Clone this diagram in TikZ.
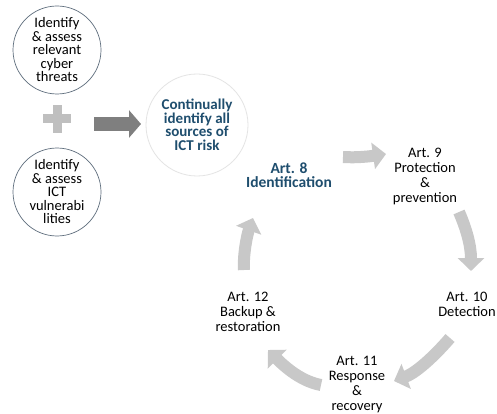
\documentclass[tikz,border=0pt]{standalone}
\usepackage{fontspec}
\setmainfont{Carlito}
\usetikzlibrary{arrows.meta}
\definecolor{dblue}{RGB}{31,78,110}
\definecolor{lgray}{RGB}{200,200,200}
\definecolor{dgray}{RGB}{127,127,127}
\definecolor{pgray}{RGB}{191,191,191}
\definecolor{cborder}{RGB}{95,110,125}
\definecolor{ccborder}{RGB}{228,228,228}
\tikzset{
  txt/.style={align=center, inner sep=0pt, font=\fontsize{14.5}{15}\selectfont},
  ctxt/.style={circle, draw=cborder, line width=0.7pt, minimum size=88pt, inner sep=0pt, align=center, font=\fontsize{14.5}{13.5}\selectfont},
  bigcirc/.style={circle, draw=ccborder, line width=0.8pt, minimum size=102pt, inner sep=0pt, align=center, text=dblue, font=\bfseries\fontsize{15}{13.5}\selectfont},
  btxt/.style={align=center, inner sep=0pt, text=dblue, font=\bfseries\fontsize{15.5}{14.5}\selectfont},
  garrow/.style={draw=lgray, line width=12pt, -{Triangle[width=26pt,length=13pt]}},
  darrow/.style={draw=dgray, line width=14pt, -{Triangle[width=27pt,length=12pt]}},
}
\begin{document}
\begin{tikzpicture}[x=1pt,y=-1pt]
\clip (0,0) rectangle (497,414);
\fill[white] (0,0) rectangle (497,414);
% left circles
\node[ctxt] (threats) at (57,50) {Identify\\\& assess\\relevant\\cyber\\threats};
\node[ctxt] (vuln) at (57,192) {Identify\\\& assess\\ICT\\vulnerabi\\lities};
% plus
\fill[pgray] (43,114.5) rectangle (71,123.5);
\fill[pgray] (52.5,105) rectangle (61.5,133);
% center circle
\node[bigcirc] (sources) at (197,125) {Continually\\identify all\\sources of\\ICT risk};
\coordinate (bstart) at (94,124);
\coordinate (bend) at (141,124);
\draw[darrow] (bstart) -- (bend);
% cycle texts
\node[btxt] (a8) at (289,175) {Art. 8\\Identification};
\node[txt] (a9) at (425,176) {Art. 9\\Protection\\\&\\prevention};
\node[txt] (a10) at (467,304) {Art. 10\\Detection};
\node[txt] (a11) at (357,384) {Art. 11\\Response\\\&\\recovery};
\node[txt] (a12) at (248,312) {Art. 12\\Backup \&\\restoration};
% arrow coordinates
\coordinate (s1) at (343,157);
\coordinate (e1) at (386,154);
\coordinate (s2) at (459,212);
\coordinate (e2) at (471,271);
\coordinate (s3) at (450,338);
\coordinate (e3) at (394,381);
\coordinate (s4) at (321,385);
\coordinate (e4) at (268,350);
\coordinate (s5) at (244,270);
\coordinate (e5) at (253,218);
\draw[garrow] (s1) .. controls (358,158) and (372,156) .. (e1);
\draw[garrow] (s2) .. controls (466,228) and (471,245) .. (e2);
\draw[garrow] (s3) .. controls (438,352) and (418,372) .. (e3);
\draw[garrow] (s4) .. controls (305,382) and (290,372) .. (e4);
\draw[garrow] (s5) .. controls (243,255) and (247,235) .. (e5);
\end{tikzpicture}
\end{document}
